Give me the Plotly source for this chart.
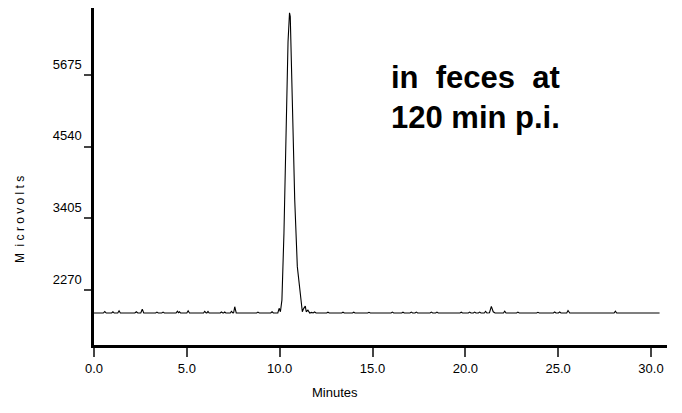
import plotly.graph_objects as go

# retention time (min) and detector signal (microvolts)
minutes = [
    0.0, 0.5, 0.58, 0.66, 0.95, 1.02, 1.09, 1.28, 1.35, 1.42,
    2.2, 2.28, 2.36, 2.52, 2.6, 2.68, 3.32, 3.39, 3.46, 3.65, 3.72, 3.79,
    4.42, 4.49, 4.55, 4.6, 4.66, 5.0, 5.07, 5.14, 5.9, 5.96, 6.04, 6.08, 6.14, 6.2,
    6.8, 6.86, 6.94, 6.98, 7.04, 7.1, 7.34, 7.4, 7.48, 7.52, 7.58, 7.66,
    8.76, 8.83, 8.9, 9.52, 9.59, 9.66,
    9.9, 9.97, 10.04, 10.12, 10.23, 10.36, 10.45, 10.53, 10.57, 10.68, 10.81, 10.95,
    11.04, 11.13, 11.22, 11.29, 11.38, 11.43, 11.52, 11.62, 11.72, 11.8, 11.88, 11.96,
    12.53, 12.6, 12.67, 13.34, 13.41, 13.48, 13.92, 13.99, 14.06, 14.74, 14.81, 14.88,
    15.53, 15.6, 15.67, 16.0, 16.07, 16.14, 16.57, 16.64, 16.71, 17.02, 17.09, 17.16,
    17.29, 17.36, 17.43, 18.1, 18.17, 18.24, 18.4, 18.47, 18.54,
    19.71, 19.78, 19.85, 20.16, 20.23, 20.3, 20.43, 20.5, 20.57, 20.7, 20.77, 20.84,
    21.02, 21.09, 21.16, 21.3, 21.4, 21.5, 21.6,
    22.05, 22.12, 22.19, 22.76, 22.83, 22.9, 23.84, 23.91, 23.98, 24.74, 24.81, 24.88,
    25.01, 25.08, 25.15, 25.46, 25.53, 25.62, 28.01, 28.08, 28.15, 30.46,
]
microvolts = [
    1905, 1905, 1928, 1905, 1906, 1925, 1905, 1905, 1940, 1906,
    1906, 1925, 1906, 1906, 1965, 1907, 1906, 1920, 1906, 1906, 1920, 1906,
    1906, 1935, 1910, 1925, 1906, 1906, 1940, 1906, 1906, 1930, 1906, 1907, 1930, 1906,
    1906, 1922, 1906, 1906, 1922, 1906, 1906, 1930, 1906, 1908, 2005, 1906,
    1906, 1920, 1906, 1906, 1925, 1906,
    1906, 1980, 1926, 2110, 3170, 5010, 6200, 6660, 6600, 5280, 3700, 2640,
    2380, 2110, 1926, 1975, 2015, 1926, 1950, 1905, 1915, 1906, 1922, 1906,
    1906, 1918, 1906, 1906, 1918, 1906, 1906, 1918, 1906, 1906, 1916, 1906,
    1906, 1916, 1906, 1906, 1920, 1906, 1906, 1918, 1906, 1906, 1920, 1906,
    1906, 1920, 1906, 1906, 1920, 1906, 1906, 1920, 1906,
    1906, 1918, 1906, 1906, 1920, 1906, 1906, 1920, 1906, 1906, 1920, 1906,
    1906, 1930, 1906, 1910, 2010, 1925, 1906,
    1906, 1935, 1906, 1906, 1920, 1906, 1906, 1916, 1906, 1906, 1922, 1906,
    1906, 1922, 1906, 1906, 1945, 1906, 1906, 1935, 1906, 1906,
]

y_ticks = [2270, 3405, 4540, 5675]
x_ticks = [0, 5, 10, 15, 20, 25, 30]
x_tick_text = ["0.0", "5.0", "10.0", "15.0", "20.0", "25.0", "30.0"]

narrow = "Liberation Sans, Arial, sans-serif"

fig = go.Figure()
fig.add_trace(go.Scatter(x=minutes, y=microvolts, mode="lines",
                         line=dict(color="black", width=1.1), showlegend=False))

# the page puts the plot 8px in from the top-left, margins allow for that
fig.update_layout(
    width=682, height=413,
    margin=dict(l=86, r=23, t=0, b=76),
    paper_bgcolor="white", plot_bgcolor="white",
    font=dict(family=narrow, color="black"),
    xaxis=dict(range=[0, 30.86], tickvals=x_ticks, ticktext=x_tick_text,
               showgrid=False, zeroline=False, showline=True, linecolor="black",
               linewidth=3, ticks="outside", ticklen=9, tickwidth=1.5,
               tickcolor="#444", tickfont=dict(size=13, family=narrow)),
    yaxis=dict(range=[1399, 6736], tickvals=y_ticks,
               showgrid=False, zeroline=False, showline=True, linecolor="black",
               linewidth=2.5, ticks="outside", ticklen=7, tickwidth=1.5,
               tickcolor="#444", ticklabelshift=-11,
               tickfont=dict(size=13, family=narrow)),
)

fig.add_annotation(text="<b>in&nbsp; feces&nbsp; at<br>120 min p.i.</b>",
                   xref="paper", yref="paper", x=0.514, y=0.735,
                   xanchor="left", yanchor="middle", align="left", showarrow=False,
                   font=dict(size=31, family="Liberation Sans, Arial, sans-serif"))
fig.add_annotation(text="Minutes", xref="paper", yref="paper", x=0.4206, y=-0.1415,
                   xanchor="center", yanchor="middle", showarrow=False,
                   font=dict(size=13, family=narrow))
fig.add_annotation(text="M&nbsp; i c r o v o l t s", xref="paper", yref="paper",
                   x=-0.129, y=0.371, textangle=-90, xanchor="center",
                   yanchor="middle", showarrow=False,
                   font=dict(size=12, family=narrow))

fig.write_html("out.html")
